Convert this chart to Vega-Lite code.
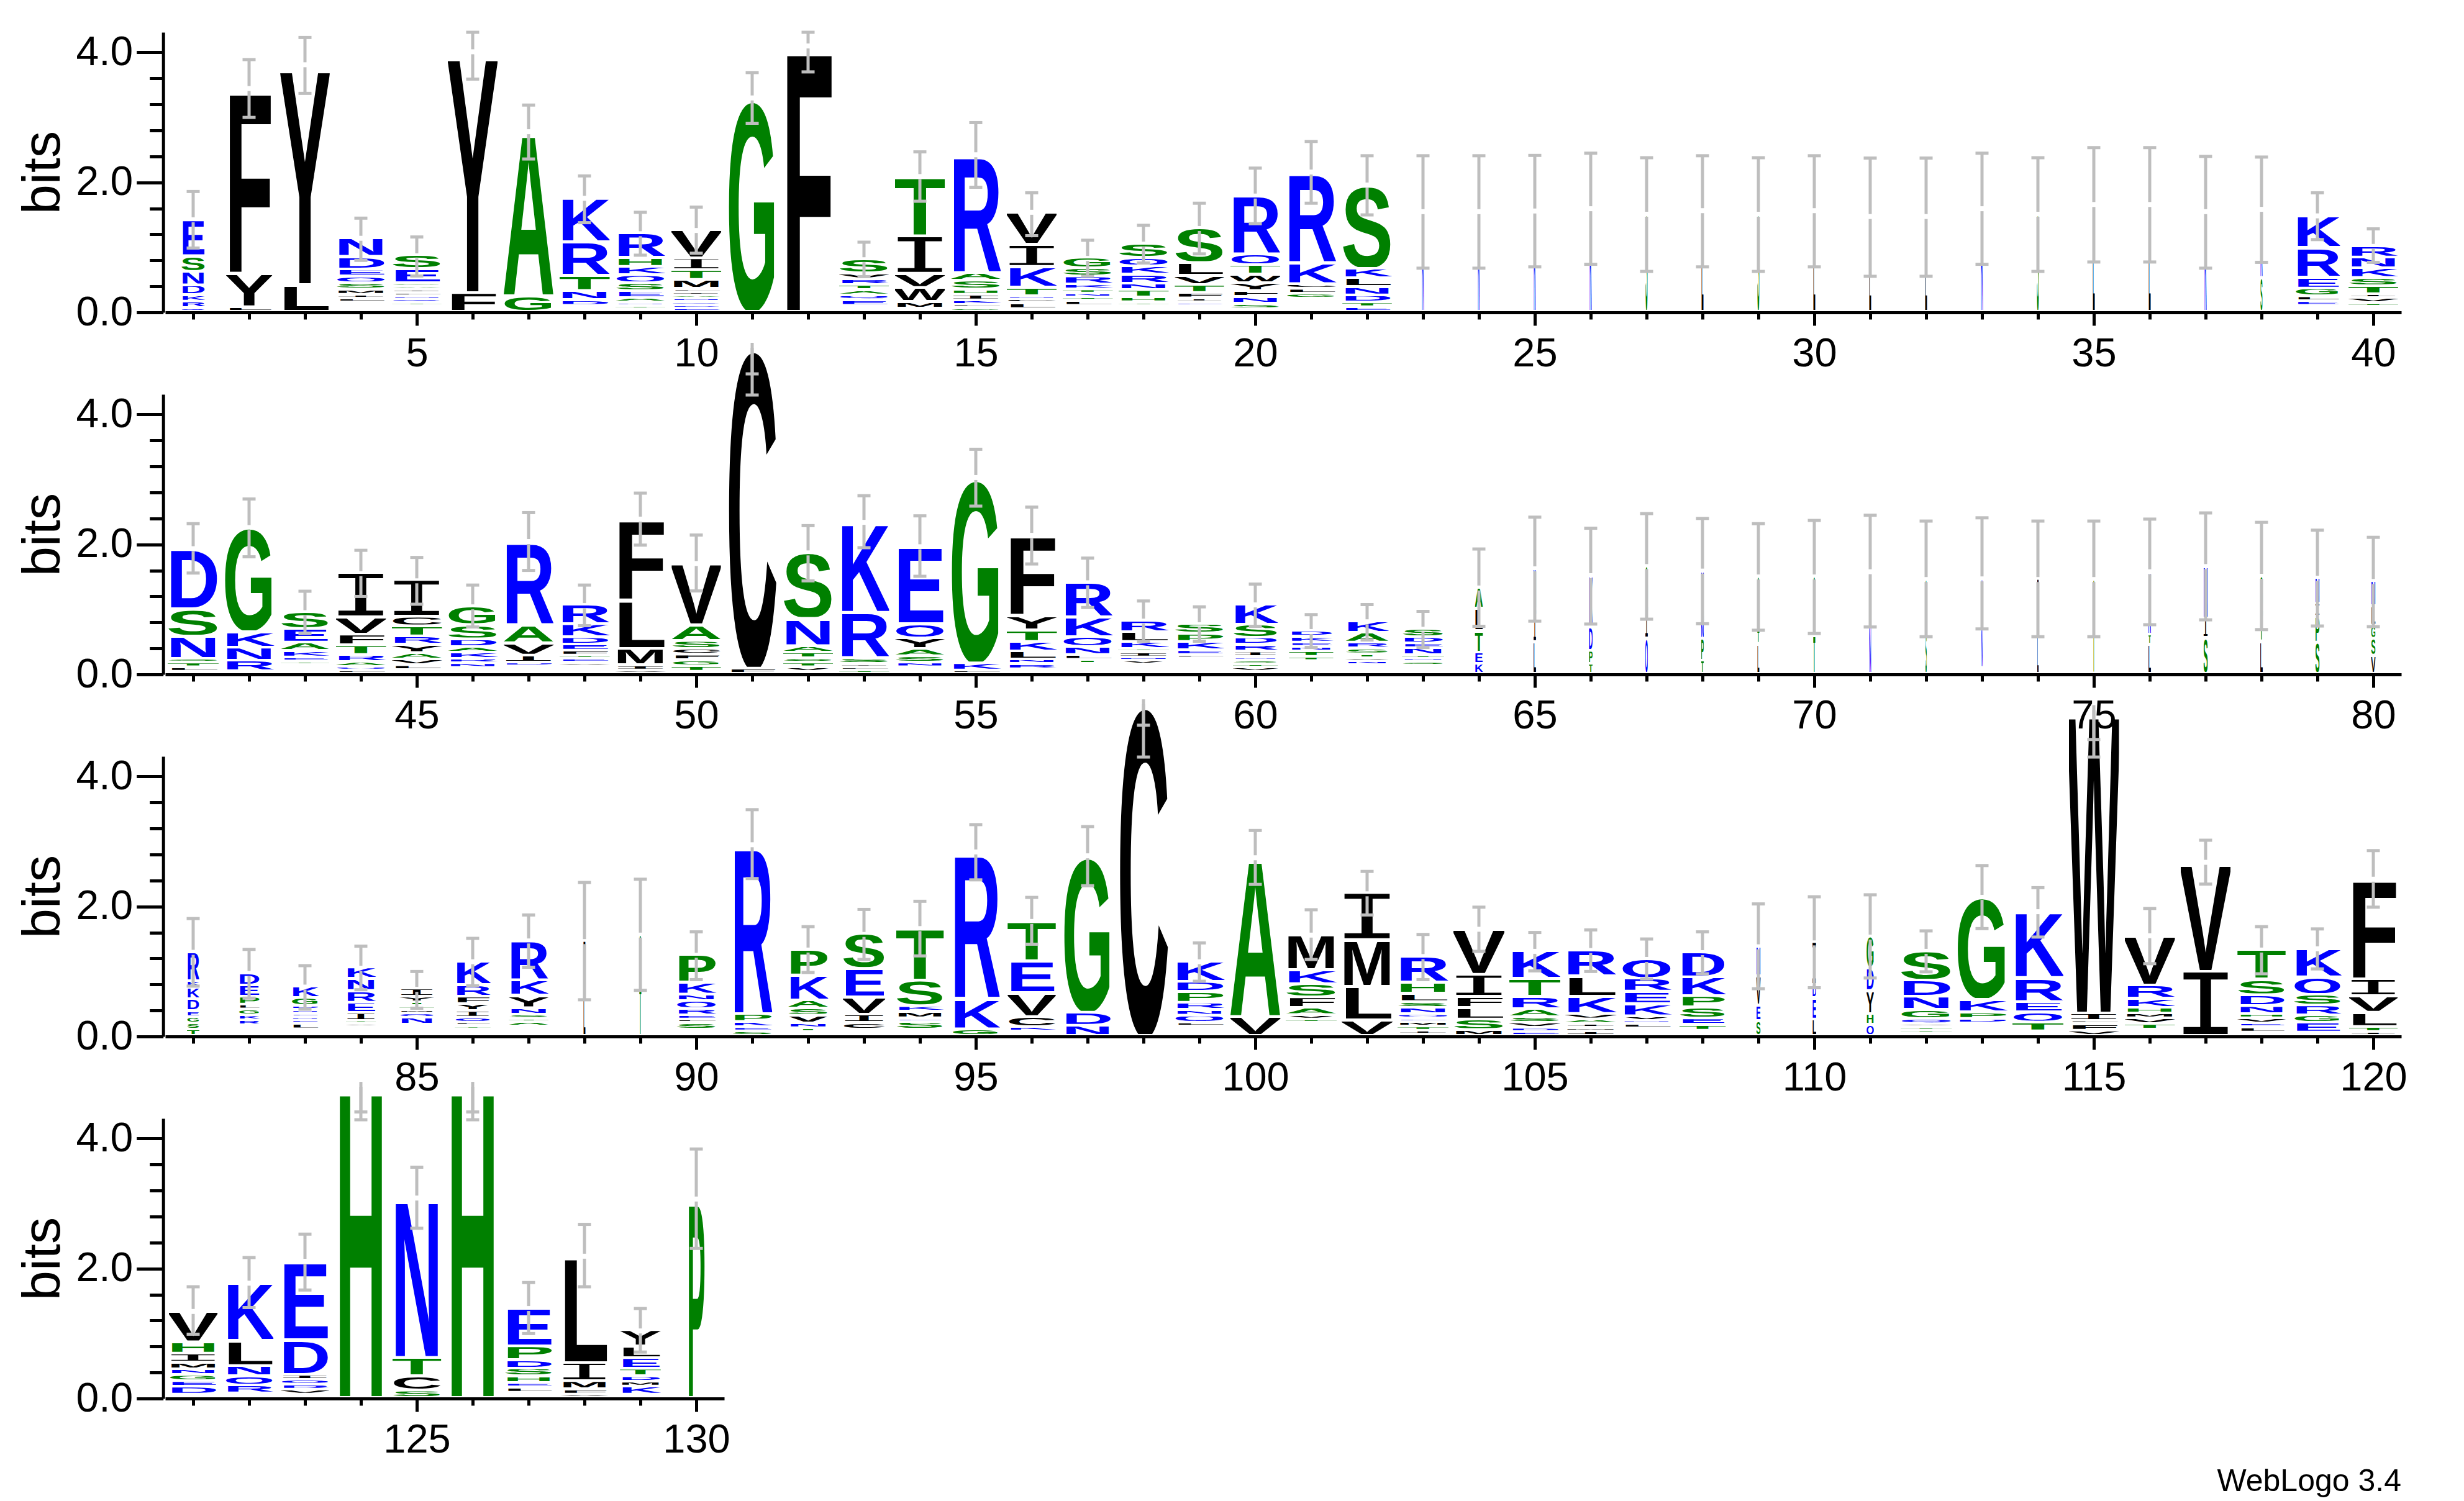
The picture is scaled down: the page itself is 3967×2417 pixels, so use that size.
{
"$schema":"https://vega.github.io/schema/vega-lite/v6.json",
"description":"WebLogo sequence logo of a 130 position protein alignment",
"padding":{"left":26,"top":49,"right":100,"bottom":5},
"background":"white",
"config":{"view":{"stroke":null},"font":"Liberation Sans"},
"bounds":"flush",
"spacing":132,
"datasets":{
"columns":[
{"pos":1,"w":0.43,"low":0.99,"high":1.86},{"pos":2,"w":0.83,"low":3.0,"high":3.89},{"pos":3,"w":0.885,"low":3.37,"high":4.23},{"pos":4,"w":0.89,"low":0.8,"high":1.45},{"pos":5,"w":0.885,"low":0.56,"high":1.16},{"pos":6,"w":0.89,"low":3.59,"high":4.31},{"pos":7,"w":0.9,"low":2.36,"high":3.19},{"pos":8,"w":0.9,"low":1.38,"high":2.1},{"pos":9,"w":0.89,"low":0.88,"high":1.54},{"pos":10,"w":0.89,"low":0.91,"high":1.62},
{"pos":11,"w":0.875,"low":2.91,"high":3.69},{"pos":12,"w":0.9,"low":3.7,"high":4.31},{"pos":13,"w":0.89,"low":0.55,"high":1.08},{"pos":14,"w":0.89,"low":1.71,"high":2.47},{"pos":15,"w":0.9,"low":1.925,"high":2.92},{"pos":16,"w":0.89,"low":1.18,"high":1.84},{"pos":17,"w":0.9,"low":0.56,"high":1.11},{"pos":18,"w":0.9,"low":0.76,"high":1.34},{"pos":19,"w":0.88,"low":0.9,"high":1.68},{"pos":20,"w":0.89,"low":1.365,"high":2.22},
{"pos":21,"w":0.9,"low":1.68,"high":2.63},{"pos":22,"w":0.885,"low":1.5,"high":2.41},{"pos":23,"w":0.04,"low":0.68,"high":2.41},{"pos":24,"w":0.04,"low":0.68,"high":2.41},{"pos":25,"w":0.04,"low":0.7,"high":2.415},{"pos":26,"w":0.04,"low":0.74,"high":2.45},{"pos":27,"w":0.04,"low":0.63,"high":2.38},{"pos":28,"w":0.04,"low":0.7,"high":2.41},{"pos":29,"w":0.04,"low":0.63,"high":2.38},{"pos":30,"w":0.04,"low":0.7,"high":2.41},
{"pos":31,"w":0.04,"low":0.555,"high":2.375},{"pos":32,"w":0.04,"low":0.555,"high":2.375},{"pos":33,"w":0.04,"low":0.74,"high":2.45},{"pos":34,"w":0.04,"low":0.63,"high":2.38},{"pos":35,"w":0.04,"low":0.775,"high":2.535},{"pos":36,"w":0.04,"low":0.775,"high":2.535},{"pos":37,"w":0.04,"low":0.68,"high":2.4},{"pos":38,"w":0.04,"low":0.77,"high":2.39},{"pos":39,"w":0.81,"low":1.12,"high":1.84},{"pos":40,"w":0.885,"low":0.77,"high":1.285},
{"pos":41,"w":0.91,"low":1.56,"high":2.32},{"pos":42,"w":0.9,"low":1.81,"high":2.7},{"pos":43,"w":0.87,"low":0.63,"high":1.28},{"pos":44,"w":0.9,"low":1.2,"high":1.91},{"pos":45,"w":0.9,"low":1.08,"high":1.8},{"pos":46,"w":0.9,"low":0.73,"high":1.375},{"pos":47,"w":0.9,"low":1.6,"high":2.49},{"pos":48,"w":0.9,"low":0.75,"high":1.375},{"pos":49,"w":0.9,"low":1.99,"high":2.79},{"pos":50,"w":0.88,"low":1.285,"high":2.145},
{"pos":51,"w":0.88,"low":4.3,"high":4.625},{"pos":52,"w":0.89,"low":1.44,"high":2.29},{"pos":53,"w":0.9,"low":1.95,"high":2.75},{"pos":54,"w":0.89,"low":1.51,"high":2.44},{"pos":55,"w":0.9,"low":2.59,"high":3.465},{"pos":56,"w":0.9,"low":1.7,"high":2.575},{"pos":57,"w":0.9,"low":1.03,"high":1.79},{"pos":58,"w":0.91,"low":0.51,"high":1.13},{"pos":59,"w":0.89,"low":0.51,"high":1.04},{"pos":60,"w":0.81,"low":0.74,"high":1.39},
{"pos":61,"w":0.79,"low":0.415,"high":0.92},{"pos":62,"w":0.775,"low":0.53,"high":1.075},{"pos":63,"w":0.75,"low":0.415,"high":0.97},{"pos":64,"w":0.145,"low":0.74,"high":1.93},{"pos":65,"w":0.05,"low":0.82,"high":2.42},{"pos":66,"w":0.07,"low":0.775,"high":2.25},{"pos":67,"w":0.05,"low":0.85,"high":2.475},{"pos":68,"w":0.05,"low":0.78,"high":2.4},{"pos":69,"w":0.04,"low":0.68,"high":2.32},{"pos":70,"w":0.04,"low":0.63,"high":2.37},
{"pos":71,"w":0.04,"low":0.73,"high":2.45},{"pos":72,"w":0.03,"low":0.58,"high":2.36},{"pos":73,"w":0.03,"low":0.7,"high":2.41},{"pos":74,"w":0.03,"low":0.58,"high":2.36},{"pos":75,"w":0.03,"low":0.58,"high":2.36},{"pos":76,"w":0.05,"low":0.765,"high":2.39},{"pos":77,"w":0.08,"low":0.84,"high":2.485},{"pos":78,"w":0.05,"low":0.69,"high":2.34},{"pos":79,"w":0.08,"low":0.745,"high":2.22},{"pos":80,"w":0.08,"low":0.735,"high":2.11},
{"pos":81,"w":0.22,"low":0.775,"high":1.815},{"pos":82,"w":0.38,"low":0.59,"high":1.34},{"pos":83,"w":0.49,"low":0.42,"high":1.09},{"pos":84,"w":0.54,"low":0.72,"high":1.39},{"pos":85,"w":0.62,"low":0.435,"high":1.0},{"pos":86,"w":0.64,"low":0.78,"high":1.51},{"pos":87,"w":0.71,"low":1.065,"high":1.87},{"pos":88,"w":0.04,"low":0.565,"high":2.37},{"pos":89,"w":0.04,"low":0.71,"high":2.42},{"pos":90,"w":0.72,"low":0.875,"high":1.61},
{"pos":91,"w":0.72,"low":2.43,"high":3.49},{"pos":92,"w":0.72,"low":0.985,"high":1.69},{"pos":93,"w":0.76,"low":1.185,"high":1.955},{"pos":94,"w":0.85,"low":1.24,"high":2.08},{"pos":95,"w":0.86,"low":2.41,"high":3.26},{"pos":96,"w":0.86,"low":1.42,"high":2.14},{"pos":97,"w":0.875,"low":2.32,"high":3.23},{"pos":98,"w":0.89,"low":4.3,"high":4.79},{"pos":99,"w":0.9,"low":0.85,"high":1.44},{"pos":100,"w":0.9,"low":2.34,"high":3.17},
{"pos":101,"w":0.91,"low":1.185,"high":1.95},{"pos":102,"w":0.91,"low":1.87,"high":2.54},{"pos":103,"w":0.91,"low":0.875,"high":1.57},{"pos":104,"w":0.91,"low":1.31,"high":1.99},{"pos":105,"w":0.91,"low":1.01,"high":1.6},{"pos":106,"w":0.92,"low":1.0,"high":1.64},{"pos":107,"w":0.9,"low":0.885,"high":1.5},{"pos":108,"w":0.83,"low":0.965,"high":1.61},{"pos":109,"w":0.08,"low":0.735,"high":2.04},{"pos":110,"w":0.07,"low":0.75,"high":2.15},
{"pos":111,"w":0.135,"low":0.9,"high":2.18},{"pos":112,"w":0.92,"low":0.995,"high":1.625},{"pos":113,"w":0.91,"low":1.66,"high":2.63},{"pos":114,"w":0.91,"low":1.53,"high":2.29},{"pos":115,"w":0.9,"low":4.3,"high":4.57},{"pos":116,"w":0.9,"low":1.12,"high":1.97},{"pos":117,"w":0.89,"low":2.345,"high":3.02},{"pos":118,"w":0.86,"low":0.965,"high":1.69},{"pos":119,"w":0.86,"low":1.04,"high":1.655},{"pos":120,"w":0.87,"low":1.99,"high":2.86},
{"pos":121,"w":0.87,"low":0.99,"high":1.72},{"pos":122,"w":0.87,"low":1.4,"high":2.17},{"pos":123,"w":0.87,"low":1.67,"high":2.53},{"pos":124,"w":0.87,"low":4.29,"high":4.41},{"pos":125,"w":0.87,"low":2.62,"high":3.56},{"pos":126,"w":0.87,"low":4.29,"high":4.41},{"pos":127,"w":0.87,"low":1.0,"high":1.785},{"pos":128,"w":0.84,"low":1.72,"high":2.68},{"pos":129,"w":0.73,"low":0.715,"high":1.385},{"pos":130,"w":0.31,"low":2.31,"high":3.84}
],
"letters":[
{"pos":1,"aa":"Q","bits":0.055},{"pos":1,"aa":"R","bits":0.1},{"pos":1,"aa":"K","bits":0.1},{"pos":1,"aa":"D","bits":0.15},{"pos":1,"aa":"N","bits":0.21},{"pos":1,"aa":"S","bits":0.24},{"pos":1,"aa":"E","bits":0.57},
{"pos":2,"aa":"L","bits":0.07},{"pos":2,"aa":"Y","bits":0.515},{"pos":2,"aa":"F","bits":2.86},
{"pos":3,"aa":"L","bits":0.41},{"pos":3,"aa":"Y","bits":3.4},
{"pos":4,"aa":"","bits":0.14},{"pos":4,"aa":"L","bits":0.06},{"pos":4,"aa":"I","bits":0.06},{"pos":4,"aa":"M","bits":0.08},{"pos":4,"aa":"S","bits":0.1},{"pos":4,"aa":"Q","bits":0.1},{"pos":4,"aa":"E","bits":0.11},{"pos":4,"aa":"D","bits":0.195},{"pos":4,"aa":"N","bits":0.295},
{"pos":5,"aa":"","bits":0.09},{"pos":5,"aa":"T","bits":0.05},{"pos":5,"aa":"Q","bits":0.05},{"pos":5,"aa":"N","bits":0.05},{"pos":5,"aa":"L","bits":0.05},{"pos":5,"aa":"I","bits":0.05},{"pos":5,"aa":"A","bits":0.05},{"pos":5,"aa":"G","bits":0.05},{"pos":5,"aa":"E","bits":0.22},{"pos":5,"aa":"S","bits":0.21},
{"pos":6,"aa":"F","bits":0.285},{"pos":6,"aa":"Y","bits":3.725},
{"pos":7,"aa":"G","bits":0.24},{"pos":7,"aa":"A","bits":2.54},
{"pos":8,"aa":"","bits":0.09},{"pos":8,"aa":"D","bits":0.09},{"pos":8,"aa":"N","bits":0.14},{"pos":8,"aa":"T","bits":0.235},{"pos":8,"aa":"R","bits":0.515},{"pos":8,"aa":"K","bits":0.685},
{"pos":9,"aa":"","bits":0.04},{"pos":9,"aa":"T","bits":0.05},{"pos":9,"aa":"N","bits":0.05},{"pos":9,"aa":"A","bits":0.07},{"pos":9,"aa":"E","bits":0.11},{"pos":9,"aa":"S","bits":0.12},{"pos":9,"aa":"Q","bits":0.12},{"pos":9,"aa":"K","bits":0.13},{"pos":9,"aa":"H","bits":0.14},{"pos":9,"aa":"R","bits":0.38},
{"pos":10,"aa":"E","bits":0.05},{"pos":10,"aa":"D","bits":0.05},{"pos":10,"aa":"Q","bits":0.05},{"pos":10,"aa":"N","bits":0.05},{"pos":10,"aa":"A","bits":0.05},{"pos":10,"aa":"I","bits":0.05},{"pos":10,"aa":"L","bits":0.05},{"pos":10,"aa":"M","bits":0.14},{"pos":10,"aa":"T","bits":0.15},{"pos":10,"aa":"I","bits":0.18},{"pos":10,"aa":"V","bits":0.44},
{"pos":11,"aa":"G","bits":3.3},
{"pos":12,"aa":"F","bits":4.1},
{"pos":13,"aa":"","bits":0.09},{"pos":13,"aa":"E","bits":0.09},{"pos":13,"aa":"Q","bits":0.07},{"pos":13,"aa":"A","bits":0.08},{"pos":13,"aa":"T","bits":0.08},{"pos":13,"aa":"R","bits":0.09},{"pos":13,"aa":"V","bits":0.09},{"pos":13,"aa":"S","bits":0.22},
{"pos":14,"aa":"","bits":0.045},{"pos":14,"aa":"M","bits":0.105},{"pos":14,"aa":"W","bits":0.215},{"pos":14,"aa":"V","bits":0.22},{"pos":14,"aa":"I","bits":0.575},{"pos":14,"aa":"T","bits":0.93},
{"pos":15,"aa":"G","bits":0.055},{"pos":15,"aa":"L","bits":0.05},{"pos":15,"aa":"K","bits":0.07},{"pos":15,"aa":"I","bits":0.085},{"pos":15,"aa":"H","bits":0.08},{"pos":15,"aa":"S","bits":0.135},{"pos":15,"aa":"A","bits":0.12},{"pos":15,"aa":"R","bits":1.83},
{"pos":16,"aa":"","bits":0.04},{"pos":16,"aa":"L","bits":0.09},{"pos":16,"aa":"C","bits":0.06},{"pos":16,"aa":"N","bits":0.05},{"pos":16,"aa":"T","bits":0.13},{"pos":16,"aa":"K","bits":0.32},{"pos":16,"aa":"I","bits":0.34},{"pos":16,"aa":"V","bits":0.51},
{"pos":17,"aa":"","bits":0.09},{"pos":17,"aa":"L","bits":0.08},{"pos":17,"aa":"T","bits":0.05},{"pos":17,"aa":"N","bits":0.06},{"pos":17,"aa":"T","bits":0.06},{"pos":17,"aa":"K","bits":0.08},{"pos":17,"aa":"R","bits":0.12},{"pos":17,"aa":"S","bits":0.13},{"pos":17,"aa":"G","bits":0.16},
{"pos":18,"aa":"","bits":0.09},{"pos":18,"aa":"T","bits":0.055},{"pos":18,"aa":"H","bits":0.075},{"pos":18,"aa":"T","bits":0.11},{"pos":18,"aa":"N","bits":0.1},{"pos":18,"aa":"R","bits":0.14},{"pos":18,"aa":"K","bits":0.13},{"pos":18,"aa":"Q","bits":0.13},{"pos":18,"aa":"S","bits":0.22},
{"pos":19,"aa":"","bits":0.09},{"pos":19,"aa":"E","bits":0.055},{"pos":19,"aa":"I","bits":0.06},{"pos":19,"aa":"F","bits":0.085},{"pos":19,"aa":"T","bits":0.12},{"pos":19,"aa":"V","bits":0.14},{"pos":19,"aa":"L","bits":0.2},{"pos":19,"aa":"S","bits":0.54},
{"pos":20,"aa":"","bits":0.04},{"pos":20,"aa":"S","bits":0.08},{"pos":20,"aa":"N","bits":0.105},{"pos":20,"aa":"F","bits":0.095},{"pos":20,"aa":"Y","bits":0.12},{"pos":20,"aa":"W","bits":0.13},{"pos":20,"aa":"T","bits":0.15},{"pos":20,"aa":"Q","bits":0.16},{"pos":20,"aa":"R","bits":0.91},
{"pos":21,"aa":"","bits":0.2},{"pos":21,"aa":"G","bits":0.075},{"pos":21,"aa":"L","bits":0.075},{"pos":21,"aa":"C","bits":0.075},{"pos":21,"aa":"K","bits":0.325},{"pos":21,"aa":"R","bits":1.41},
{"pos":22,"aa":"E","bits":0.07},{"pos":22,"aa":"T","bits":0.07},{"pos":22,"aa":"D","bits":0.11},{"pos":22,"aa":"N","bits":0.13},{"pos":22,"aa":"L","bits":0.135},{"pos":22,"aa":"K","bits":0.145},{"pos":22,"aa":"S","bits":1.3},
{"pos":23,"aa":"K","bits":1.55},{"pos":24,"aa":"K","bits":1.55},{"pos":25,"aa":"K","bits":1.56},{"pos":26,"aa":"K","bits":1.595},{"pos":27,"aa":"S","bits":1.51},{"pos":28,"aa":"L","bits":1.565},{"pos":29,"aa":"S","bits":1.51},{"pos":30,"aa":"L","bits":1.565},{"pos":31,"aa":"L","bits":1.475},{"pos":32,"aa":"L","bits":1.475},{"pos":33,"aa":"K","bits":1.595},{"pos":34,"aa":"S","bits":1.51},{"pos":35,"aa":"L","bits":1.66},{"pos":36,"aa":"L","bits":1.66},{"pos":37,"aa":"K","bits":1.55},
{"pos":38,"aa":"S","bits":0.52},{"pos":38,"aa":"K","bits":1.065},
{"pos":39,"aa":"","bits":0.09},{"pos":39,"aa":"E","bits":0.07},{"pos":39,"aa":"L","bits":0.075},{"pos":39,"aa":"G","bits":0.12},{"pos":39,"aa":"E","bits":0.17},{"pos":39,"aa":"R","bits":0.46},{"pos":39,"aa":"K","bits":0.5},
{"pos":40,"aa":"","bits":0.075},{"pos":40,"aa":"T","bits":0.055},{"pos":40,"aa":"V","bits":0.08},{"pos":40,"aa":"I","bits":0.06},{"pos":40,"aa":"T","bits":0.125},{"pos":40,"aa":"S","bits":0.125},{"pos":40,"aa":"K","bits":0.15},{"pos":40,"aa":"N","bits":0.165},{"pos":40,"aa":"R","bits":0.18},
{"pos":41,"aa":"","bits":0.03},{"pos":41,"aa":"L","bits":0.07},{"pos":41,"aa":"T","bits":0.07},{"pos":41,"aa":"S","bits":0.06},{"pos":41,"aa":"N","bits":0.34},{"pos":41,"aa":"S","bits":0.42},{"pos":41,"aa":"D","bits":0.945},
{"pos":42,"aa":"","bits":0.04},{"pos":42,"aa":"R","bits":0.16},{"pos":42,"aa":"N","bits":0.2},{"pos":42,"aa":"K","bits":0.24},{"pos":42,"aa":"G","bits":1.62},
{"pos":43,"aa":"","bits":0.135},{"pos":43,"aa":"T","bits":0.055},{"pos":43,"aa":"E","bits":0.06},{"pos":43,"aa":"K","bits":0.1},{"pos":43,"aa":"A","bits":0.13},{"pos":43,"aa":"E","bits":0.21},{"pos":43,"aa":"S","bits":0.26},
{"pos":44,"aa":"L","bits":0.05},{"pos":44,"aa":"Q","bits":0.056},{"pos":44,"aa":"A","bits":0.074},{"pos":44,"aa":"R","bits":0.11},{"pos":44,"aa":"T","bits":0.145},{"pos":44,"aa":"F","bits":0.165},{"pos":44,"aa":"V","bits":0.265},{"pos":44,"aa":"I","bits":0.685},
{"pos":45,"aa":"","bits":0.055},{"pos":45,"aa":"L","bits":0.075},{"pos":45,"aa":"V","bits":0.09},{"pos":45,"aa":"A","bits":0.1},{"pos":45,"aa":"Y","bits":0.13},{"pos":45,"aa":"R","bits":0.125},{"pos":45,"aa":"T","bits":0.155},{"pos":45,"aa":"C","bits":0.145},{"pos":45,"aa":"I","bits":0.565},
{"pos":46,"aa":"","bits":0.09},{"pos":46,"aa":"N","bits":0.07},{"pos":46,"aa":"R","bits":0.07},{"pos":46,"aa":"K","bits":0.095},{"pos":46,"aa":"A","bits":0.085},{"pos":46,"aa":"D","bits":0.12},{"pos":46,"aa":"S","bits":0.22},{"pos":46,"aa":"G","bits":0.29},
{"pos":47,"aa":"","bits":0.11},{"pos":47,"aa":"D","bits":0.06},{"pos":47,"aa":"I","bits":0.11},{"pos":47,"aa":"V","bits":0.19},{"pos":47,"aa":"A","bits":0.28},{"pos":47,"aa":"R","bits":1.295},
{"pos":48,"aa":"","bits":0.115},{"pos":48,"aa":"V","bits":0.055},{"pos":48,"aa":"E","bits":0.06},{"pos":48,"aa":"T","bits":0.05},{"pos":48,"aa":"F","bits":0.075},{"pos":48,"aa":"E","bits":0.095},{"pos":48,"aa":"D","bits":0.11},{"pos":48,"aa":"K","bits":0.2},{"pos":48,"aa":"R","bits":0.3},
{"pos":49,"aa":"V","bits":0.05},{"pos":49,"aa":"I","bits":0.08},{"pos":49,"aa":"M","bits":0.25},{"pos":49,"aa":"L","bits":0.75},{"pos":49,"aa":"F","bits":1.26},
{"pos":50,"aa":"","bits":0.03},{"pos":50,"aa":"T","bits":0.087},{"pos":50,"aa":"G","bits":0.09},{"pos":50,"aa":"F","bits":0.085},{"pos":50,"aa":"C","bits":0.09},{"pos":50,"aa":"S","bits":0.12},{"pos":50,"aa":"A","bits":0.245},{"pos":50,"aa":"V","bits":0.96},
{"pos":51,"aa":"F","bits":0.08},{"pos":51,"aa":"C","bits":4.985},
{"pos":52,"aa":"","bits":0.03},{"pos":52,"aa":"V","bits":0.07},{"pos":52,"aa":"T","bits":0.07},{"pos":52,"aa":"S","bits":0.07},{"pos":52,"aa":"T","bits":0.085},{"pos":52,"aa":"A","bits":0.1},{"pos":52,"aa":"N","bits":0.42},{"pos":52,"aa":"S","bits":1.025},
{"pos":53,"aa":"T","bits":0.05},{"pos":53,"aa":"L","bits":0.05},{"pos":53,"aa":"I","bits":0.05},{"pos":53,"aa":"S","bits":0.085},{"pos":53,"aa":"R","bits":0.705},{"pos":53,"aa":"K","bits":1.4},
{"pos":54,"aa":"","bits":0.1},{"pos":54,"aa":"N","bits":0.07},{"pos":54,"aa":"S","bits":0.1},{"pos":54,"aa":"A","bits":0.11},{"pos":54,"aa":"Y","bits":0.165},{"pos":54,"aa":"Q","bits":0.215},{"pos":54,"aa":"E","bits":1.205},
{"pos":55,"aa":"L","bits":0.05},{"pos":55,"aa":"K","bits":0.11},{"pos":55,"aa":"G","bits":2.87},
{"pos":56,"aa":"","bits":0.07},{"pos":56,"aa":"R","bits":0.08},{"pos":56,"aa":"N","bits":0.07},{"pos":56,"aa":"L","bits":0.125},{"pos":56,"aa":"K","bits":0.145},{"pos":56,"aa":"T","bits":0.18},{"pos":56,"aa":"Y","bits":0.22},{"pos":56,"aa":"F","bits":1.25},
{"pos":57,"aa":"","bits":0.15},{"pos":57,"aa":"T","bits":0.065},{"pos":57,"aa":"L","bits":0.075},{"pos":57,"aa":"N","bits":0.125},{"pos":57,"aa":"Q","bits":0.15},{"pos":57,"aa":"K","bits":0.305},{"pos":57,"aa":"R","bits":0.54},
{"pos":58,"aa":"","bits":0.14},{"pos":58,"aa":"V","bits":0.06},{"pos":58,"aa":"N","bits":0.05},{"pos":58,"aa":"I","bits":0.08},{"pos":58,"aa":"T","bits":0.05},{"pos":58,"aa":"K","bits":0.11},{"pos":58,"aa":"L","bits":0.15},{"pos":58,"aa":"R","bits":0.18},
{"pos":59,"aa":"","bits":0.235},{"pos":59,"aa":"L","bits":0.055},{"pos":59,"aa":"E","bits":0.07},{"pos":59,"aa":"K","bits":0.13},{"pos":59,"aa":"P","bits":0.13},{"pos":59,"aa":"S","bits":0.145},
{"pos":60,"aa":"","bits":0.03},{"pos":60,"aa":"V","bits":0.065},{"pos":60,"aa":"T","bits":0.05},{"pos":60,"aa":"S","bits":0.06},{"pos":60,"aa":"N","bits":0.05},{"pos":60,"aa":"I","bits":0.085},{"pos":60,"aa":"R","bits":0.105},{"pos":60,"aa":"D","bits":0.11},{"pos":60,"aa":"S","bits":0.2},{"pos":60,"aa":"K","bits":0.315},
{"pos":61,"aa":"","bits":0.195},{"pos":61,"aa":"T","bits":0.065},{"pos":61,"aa":"T","bits":0.085},{"pos":61,"aa":"N","bits":0.07},{"pos":61,"aa":"E","bits":0.065},{"pos":61,"aa":"K","bits":0.09},{"pos":61,"aa":"D","bits":0.09},
{"pos":62,"aa":"","bits":0.13},{"pos":62,"aa":"N","bits":0.06},{"pos":62,"aa":"V","bits":0.05},{"pos":62,"aa":"T","bits":0.06},{"pos":62,"aa":"S","bits":0.09},{"pos":62,"aa":"R","bits":0.09},{"pos":62,"aa":"A","bits":0.15},{"pos":62,"aa":"K","bits":0.18},
{"pos":63,"aa":"","bits":0.12},{"pos":63,"aa":"S","bits":0.06},{"pos":63,"aa":"N","bits":0.05},{"pos":63,"aa":"T","bits":0.055},{"pos":63,"aa":"N","bits":0.11},{"pos":63,"aa":"E","bits":0.07},{"pos":63,"aa":"D","bits":0.1},{"pos":63,"aa":"S","bits":0.13},
{"pos":64,"aa":"K","bits":0.15},{"pos":64,"aa":"E","bits":0.175},{"pos":64,"aa":"T","bits":0.335},{"pos":64,"aa":"L","bits":0.34},{"pos":64,"aa":"A","bits":0.33},
{"pos":65,"aa":"L","bits":0.49},{"pos":65,"aa":"I","bits":0.5},{"pos":65,"aa":"N","bits":0.635},
{"pos":66,"aa":"T","bits":0.15},{"pos":66,"aa":"P","bits":0.2},{"pos":66,"aa":"D","bits":0.37},{"pos":66,"aa":"K","bits":0.8},
{"pos":67,"aa":"Q","bits":0.54},{"pos":67,"aa":"I","bits":0.5},{"pos":67,"aa":"G","bits":0.62},
{"pos":68,"aa":"T","bits":0.2},{"pos":68,"aa":"P","bits":0.34},{"pos":68,"aa":"N","bits":0.25},{"pos":68,"aa":"K","bits":0.8},
{"pos":69,"aa":"L","bits":0.46},{"pos":69,"aa":"T","bits":0.22},{"pos":69,"aa":"S","bits":0.82},
{"pos":70,"aa":"T","bits":0.6},{"pos":70,"aa":"S","bits":0.9},
{"pos":71,"aa":"N","bits":0.75},{"pos":71,"aa":"K","bits":0.83},
{"pos":72,"aa":"S","bits":0.7},{"pos":72,"aa":"G","bits":0.76},
{"pos":73,"aa":"","bits":0.09},{"pos":73,"aa":"N","bits":0.68},{"pos":73,"aa":"K","bits":0.7},
{"pos":74,"aa":"L","bits":0.7},{"pos":74,"aa":"I","bits":0.76},
{"pos":75,"aa":"T","bits":0.7},{"pos":75,"aa":"S","bits":0.76},
{"pos":76,"aa":"L","bits":0.45},{"pos":76,"aa":"T","bits":0.15},{"pos":76,"aa":"K","bits":0.98},
{"pos":77,"aa":"S","bits":0.55},{"pos":77,"aa":"I","bits":0.3},{"pos":77,"aa":"N","bits":0.81},
{"pos":78,"aa":"L","bits":0.5},{"pos":78,"aa":"T","bits":0.5},{"pos":78,"aa":"S","bits":0.51},
{"pos":79,"aa":"S","bits":0.48},{"pos":79,"aa":"P","bits":0.4},{"pos":79,"aa":"I","bits":0.2},{"pos":79,"aa":"N","bits":0.4},
{"pos":80,"aa":"V","bits":0.28},{"pos":80,"aa":"S","bits":0.26},{"pos":80,"aa":"G","bits":0.2},{"pos":80,"aa":"L","bits":0.3},{"pos":80,"aa":"N","bits":0.39},
{"pos":81,"aa":"T","bits":0.095},{"pos":81,"aa":"S","bits":0.095},{"pos":81,"aa":"G","bits":0.1},{"pos":81,"aa":"E","bits":0.09},{"pos":81,"aa":"D","bits":0.185},{"pos":81,"aa":"K","bits":0.18},{"pos":81,"aa":"K","bits":0.095},{"pos":81,"aa":"R","bits":0.455},
{"pos":82,"aa":"","bits":0.16},{"pos":82,"aa":"R","bits":0.08},{"pos":82,"aa":"K","bits":0.075},{"pos":82,"aa":"G","bits":0.09},{"pos":82,"aa":"L","bits":0.075},{"pos":82,"aa":"P","bits":0.12},{"pos":82,"aa":"E","bits":0.175},{"pos":82,"aa":"D","bits":0.195},
{"pos":83,"aa":"","bits":0.1},{"pos":83,"aa":"L","bits":0.09},{"pos":83,"aa":"E","bits":0.05},{"pos":83,"aa":"N","bits":0.05},{"pos":83,"aa":"E","bits":0.055},{"pos":83,"aa":"N","bits":0.055},{"pos":83,"aa":"D","bits":0.06},{"pos":83,"aa":"G","bits":0.12},{"pos":83,"aa":"K","bits":0.18},
{"pos":84,"aa":"","bits":0.13},{"pos":84,"aa":"V","bits":0.05},{"pos":84,"aa":"T","bits":0.05},{"pos":84,"aa":"I","bits":0.12},{"pos":84,"aa":"E","bits":0.16},{"pos":84,"aa":"R","bits":0.18},{"pos":84,"aa":"N","bits":0.185},{"pos":84,"aa":"K","bits":0.175},
{"pos":85,"aa":"","bits":0.17},{"pos":85,"aa":"N","bits":0.11},{"pos":85,"aa":"Q","bits":0.065},{"pos":85,"aa":"M","bits":0.055},{"pos":85,"aa":"T","bits":0.055},{"pos":85,"aa":"T","bits":0.06},{"pos":85,"aa":"Y","bits":0.085},{"pos":85,"aa":"I","bits":0.125},
{"pos":86,"aa":"","bits":0.1},{"pos":86,"aa":"T","bits":0.05},{"pos":86,"aa":"L","bits":0.05},{"pos":86,"aa":"Q","bits":0.08},{"pos":86,"aa":"I","bits":0.1},{"pos":86,"aa":"Y","bits":0.11},{"pos":86,"aa":"F","bits":0.11},{"pos":86,"aa":"R","bits":0.18},{"pos":86,"aa":"K","bits":0.37},
{"pos":87,"aa":"","bits":0.14},{"pos":87,"aa":"A","bits":0.07},{"pos":87,"aa":"T","bits":0.05},{"pos":87,"aa":"S","bits":0.065},{"pos":87,"aa":"N","bits":0.1},{"pos":87,"aa":"Y","bits":0.195},{"pos":87,"aa":"K","bits":0.235},{"pos":87,"aa":"R","bits":0.615},
{"pos":88,"aa":"L","bits":0.7},{"pos":88,"aa":"I","bits":0.76},
{"pos":89,"aa":"T","bits":0.8},{"pos":89,"aa":"S","bits":0.76},
{"pos":90,"aa":"","bits":0.095},{"pos":90,"aa":"S","bits":0.105},{"pos":90,"aa":"L","bits":0.05},{"pos":90,"aa":"E","bits":0.065},{"pos":90,"aa":"R","bits":0.1},{"pos":90,"aa":"Q","bits":0.12},{"pos":90,"aa":"N","bits":0.1},{"pos":90,"aa":"K","bits":0.185},{"pos":90,"aa":"P","bits":0.43},
{"pos":91,"aa":"S","bits":0.07},{"pos":91,"aa":"E","bits":0.06},{"pos":91,"aa":"K","bits":0.085},{"pos":91,"aa":"P","bits":0.12},{"pos":91,"aa":"R","bits":2.615},
{"pos":92,"aa":"","bits":0.06},{"pos":92,"aa":"T","bits":0.057},{"pos":92,"aa":"N","bits":0.073},{"pos":92,"aa":"V","bits":0.12},{"pos":92,"aa":"S","bits":0.11},{"pos":92,"aa":"A","bits":0.125},{"pos":92,"aa":"K","bits":0.385},{"pos":92,"aa":"P","bits":0.4},
{"pos":93,"aa":"","bits":0.095},{"pos":93,"aa":"C","bits":0.105},{"pos":93,"aa":"I","bits":0.125},{"pos":93,"aa":"V","bits":0.265},{"pos":93,"aa":"E","bits":0.44},{"pos":93,"aa":"S","bits":0.54},
{"pos":94,"aa":"","bits":0.095},{"pos":94,"aa":"S","bits":0.12},{"pos":94,"aa":"E","bits":0.055},{"pos":94,"aa":"M","bits":0.1},{"pos":94,"aa":"K","bits":0.085},{"pos":94,"aa":"S","bits":0.395},{"pos":94,"aa":"T","bits":0.81},
{"pos":95,"aa":"G","bits":0.1},{"pos":95,"aa":"K","bits":0.47},{"pos":95,"aa":"R","bits":2.27},
{"pos":96,"aa":"","bits":0.065},{"pos":96,"aa":"K","bits":0.07},{"pos":96,"aa":"C","bits":0.155},{"pos":96,"aa":"V","bits":0.365},{"pos":96,"aa":"E","bits":0.495},{"pos":96,"aa":"T","bits":0.62},
{"pos":97,"aa":"N","bits":0.155},{"pos":97,"aa":"D","bits":0.2},{"pos":97,"aa":"G","bits":2.425},
{"pos":98,"aa":"C","bits":5.15},
{"pos":99,"aa":"","bits":0.14},{"pos":99,"aa":"L","bits":0.06},{"pos":99,"aa":"Q","bits":0.11},{"pos":99,"aa":"N","bits":0.09},{"pos":99,"aa":"R","bits":0.11},{"pos":99,"aa":"P","bits":0.165},{"pos":99,"aa":"D","bits":0.155},{"pos":99,"aa":"K","bits":0.32},
{"pos":100,"aa":"V","bits":0.29},{"pos":100,"aa":"A","bits":2.46},
{"pos":101,"aa":"","bits":0.2},{"pos":101,"aa":"T","bits":0.05},{"pos":101,"aa":"V","bits":0.07},{"pos":101,"aa":"A","bits":0.11},{"pos":101,"aa":"F","bits":0.16},{"pos":101,"aa":"S","bits":0.205},{"pos":101,"aa":"K","bits":0.215},{"pos":101,"aa":"M","bits":0.55},
{"pos":102,"aa":"V","bits":0.235},{"pos":102,"aa":"L","bits":0.52},{"pos":102,"aa":"M","bits":0.72},{"pos":102,"aa":"I","bits":0.72},
{"pos":103,"aa":"","bits":0.02},{"pos":103,"aa":"I","bits":0.06},{"pos":103,"aa":"T","bits":0.06},{"pos":103,"aa":"M","bits":0.075},{"pos":103,"aa":"E","bits":0.055},{"pos":103,"aa":"Q","bits":0.06},{"pos":103,"aa":"N","bits":0.1},{"pos":103,"aa":"S","bits":0.09},{"pos":103,"aa":"L","bits":0.13},{"pos":103,"aa":"H","bits":0.17},{"pos":103,"aa":"R","bits":0.41},
{"pos":104,"aa":"M","bits":0.09},{"pos":104,"aa":"S","bits":0.16},{"pos":104,"aa":"L","bits":0.18},{"pos":104,"aa":"F","bits":0.17},{"pos":104,"aa":"I","bits":0.34},{"pos":104,"aa":"V","bits":0.71},
{"pos":105,"aa":"E","bits":0.06},{"pos":105,"aa":"D","bits":0.06},{"pos":105,"aa":"V","bits":0.08},{"pos":105,"aa":"S","bits":0.09},{"pos":105,"aa":"A","bits":0.12},{"pos":105,"aa":"R","bits":0.19},{"pos":105,"aa":"T","bits":0.275},{"pos":105,"aa":"K","bits":0.435},
{"pos":106,"aa":"I","bits":0.07},{"pos":106,"aa":"M","bits":0.05},{"pos":106,"aa":"I","bits":0.063},{"pos":106,"aa":"A","bits":0.07},{"pos":106,"aa":"V","bits":0.085},{"pos":106,"aa":"K","bits":0.265},{"pos":106,"aa":"L","bits":0.31},{"pos":106,"aa":"R","bits":0.41},
{"pos":107,"aa":"","bits":0.115},{"pos":107,"aa":"L","bits":0.065},{"pos":107,"aa":"N","bits":0.05},{"pos":107,"aa":"V","bits":0.07},{"pos":107,"aa":"K","bits":0.19},{"pos":107,"aa":"E","bits":0.19},{"pos":107,"aa":"R","bits":0.2},{"pos":107,"aa":"Q","bits":0.305},
{"pos":108,"aa":"","bits":0.08},{"pos":108,"aa":"T","bits":0.09},{"pos":108,"aa":"E","bits":0.095},{"pos":108,"aa":"S","bits":0.17},{"pos":108,"aa":"P","bits":0.175},{"pos":108,"aa":"K","bits":0.29},{"pos":108,"aa":"D","bits":0.39},
{"pos":109,"aa":"S","bits":0.227},{"pos":109,"aa":"E","bits":0.238},{"pos":109,"aa":"V","bits":0.45},{"pos":109,"aa":"N","bits":0.465},
{"pos":110,"aa":"L","bits":0.25},{"pos":110,"aa":"E","bits":0.33},{"pos":110,"aa":"D","bits":0.2},{"pos":110,"aa":"I","bits":0.66},
{"pos":111,"aa":"Q","bits":0.17},{"pos":111,"aa":"H","bits":0.165},{"pos":111,"aa":"Y","bits":0.355},{"pos":111,"aa":"D","bits":0.35},{"pos":111,"aa":"G","bits":0.49},
{"pos":112,"aa":"","bits":0.03},{"pos":112,"aa":"T","bits":0.05},{"pos":112,"aa":"T","bits":0.05},{"pos":112,"aa":"V","bits":0.05},{"pos":112,"aa":"Q","bits":0.08},{"pos":112,"aa":"G","bits":0.14},{"pos":112,"aa":"N","bits":0.2},{"pos":112,"aa":"D","bits":0.25},{"pos":112,"aa":"S","bits":0.46},
{"pos":113,"aa":"","bits":0.19},{"pos":113,"aa":"D","bits":0.07},{"pos":113,"aa":"P","bits":0.1},{"pos":113,"aa":"K","bits":0.195},{"pos":113,"aa":"G","bits":1.585},
{"pos":114,"aa":"","bits":0.07},{"pos":114,"aa":"T","bits":0.135},{"pos":114,"aa":"Q","bits":0.155},{"pos":114,"aa":"E","bits":0.16},{"pos":114,"aa":"R","bits":0.37},{"pos":114,"aa":"K","bits":1.03},
{"pos":115,"aa":"V","bits":0.08},{"pos":115,"aa":"F","bits":0.1},{"pos":115,"aa":"L","bits":0.05},{"pos":115,"aa":"I","bits":0.115},{"pos":115,"aa":"W","bits":4.715},
{"pos":116,"aa":"","bits":0.095},{"pos":116,"aa":"T","bits":0.085},{"pos":116,"aa":"V","bits":0.09},{"pos":116,"aa":"M","bits":0.075},{"pos":116,"aa":"H","bits":0.085},{"pos":116,"aa":"K","bits":0.14},{"pos":116,"aa":"R","bits":0.205},{"pos":116,"aa":"V","bits":0.775},
{"pos":117,"aa":"I","bits":0.985},{"pos":117,"aa":"V","bits":1.695},
{"pos":118,"aa":"","bits":0.05},{"pos":118,"aa":"L","bits":0.08},{"pos":118,"aa":"E","bits":0.06},{"pos":118,"aa":"V","bits":0.08},{"pos":118,"aa":"H","bits":0.065},{"pos":118,"aa":"N","bits":0.12},{"pos":118,"aa":"D","bits":0.17},{"pos":118,"aa":"S","bits":0.24},{"pos":118,"aa":"T","bits":0.465},
{"pos":119,"aa":"","bits":0.05},{"pos":119,"aa":"E","bits":0.15},{"pos":119,"aa":"G","bits":0.115},{"pos":119,"aa":"R","bits":0.15},{"pos":119,"aa":"S","bits":0.165},{"pos":119,"aa":"Q","bits":0.27},{"pos":119,"aa":"K","bits":0.45},
{"pos":120,"aa":"I","bits":0.06},{"pos":120,"aa":"T","bits":0.075},{"pos":120,"aa":"L","bits":0.22},{"pos":120,"aa":"V","bits":0.255},{"pos":120,"aa":"I","bits":0.26},{"pos":120,"aa":"F","bits":1.55},
{"pos":121,"aa":"","bits":0.05},{"pos":121,"aa":"D","bits":0.12},{"pos":121,"aa":"E","bits":0.085},{"pos":121,"aa":"G","bits":0.095},{"pos":121,"aa":"N","bits":0.09},{"pos":121,"aa":"M","bits":0.105},{"pos":121,"aa":"I","bits":0.135},{"pos":121,"aa":"H","bits":0.175},{"pos":121,"aa":"V","bits":0.485},
{"pos":122,"aa":"","bits":0.07},{"pos":122,"aa":"R","bits":0.12},{"pos":122,"aa":"Q","bits":0.14},{"pos":122,"aa":"N","bits":0.16},{"pos":122,"aa":"L","bits":0.385},{"pos":122,"aa":"K","bits":0.9},
{"pos":123,"aa":"","bits":0.05},{"pos":123,"aa":"V","bits":0.077},{"pos":123,"aa":"R","bits":0.075},{"pos":123,"aa":"Q","bits":0.075},{"pos":123,"aa":"I","bits":0.075},{"pos":123,"aa":"D","bits":0.535},{"pos":123,"aa":"E","bits":1.225},
{"pos":124,"aa":"H","bits":4.835},
{"pos":125,"aa":"S","bits":0.11},{"pos":125,"aa":"C","bits":0.22},{"pos":125,"aa":"T","bits":0.285},{"pos":125,"aa":"N","bits":2.47},
{"pos":126,"aa":"H","bits":4.835},
{"pos":127,"aa":"","bits":0.08},{"pos":127,"aa":"L","bits":0.08},{"pos":127,"aa":"E","bits":0.065},{"pos":127,"aa":"H","bits":0.105},{"pos":127,"aa":"S","bits":0.12},{"pos":127,"aa":"D","bits":0.13},{"pos":127,"aa":"P","bits":0.21},{"pos":127,"aa":"E","bits":0.595},
{"pos":128,"aa":"V","bits":0.05},{"pos":128,"aa":"F","bits":0.08},{"pos":128,"aa":"M","bits":0.125},{"pos":128,"aa":"I","bits":0.28},{"pos":128,"aa":"L","bits":1.655},
{"pos":129,"aa":"","bits":0.05},{"pos":129,"aa":"K","bits":0.125},{"pos":129,"aa":"M","bits":0.07},{"pos":129,"aa":"D","bits":0.085},{"pos":129,"aa":"T","bits":0.115},{"pos":129,"aa":"E","bits":0.165},{"pos":129,"aa":"L","bits":0.18},{"pos":129,"aa":"Y","bits":0.25},
{"pos":130,"aa":"P","bits":3.07}
]
},
"data":{"name":"letters"},
"transform":[
{"lookup":"pos","from":{"data":{"name":"columns"},"key":"pos","fields":["w","low","high"]}},
{"calculate":"datum.pos - datum.w / 2","as":"x0"},
{"calculate":"datum.pos + datum.w / 2","as":"x1"},
{"stack":"bits","groupby":["pos"],"as":["y0","y1"]},
{"joinaggregate":[{"op":"sum","field":"bits","as":"total"}],"groupby":["pos"]},
{"calculate":"indexof('CFILMVWY', datum.aa) >= 0 ? 'black' : indexof('DEKNQR', datum.aa) >= 0 ? 'blue' : 'green'","as":"col"},
{"calculate":"datum.aa == 'I' ? \"font-family='DejaVu Sans Mono' x='-16' textLength='132' font-size='137'\" : \"font-family='Liberation Sans' font-weight='bold' x='-3' textLength='106' font-size='139.7'\"","as":"face"},
{"calculate":"\"data:image/svg+xml,%3Csvg xmlns='http://www.w3.org/2000/svg' viewBox='0 0 100 100' preserveAspectRatio='none'%3E%3Ctext y='100' lengthAdjust='spacingAndGlyphs' fill='\" + datum.col + \"' \" + datum.face + \"%3E\" + datum.aa + \"%3C/text%3E%3C/svg%3E\"","as":"glyph"}
],
"vconcat":[
{"width":3600,"height":451,"transform":[{"filter":"datum.pos <= 40"}],
"encoding":{"x":{"field":"pos","type":"quantitative","scale":{"domain":[0.5,40.5],"nice":false,"zero":false},"axis":{"title":null,"values":[1,2,3,4,5,6,7,8,9,10,11,12,13,14,15,16,17,18,19,20,21,22,23,24,25,26,27,28,29,30,31,32,33,34,35,36,37,38,39,40],"grid":false,"domainWidth":5,"domainColor":"black","tickWidth":5,"tickColor":"black","tickSize":{"condition":{"test":"datum.value % 5 === 0","value":21},"value":11},"labelExpr":"datum.value % 5 === 0 ? datum.label : ''","labelFont":"Liberation Sans","labelFontSize":65,"labelColor":"black","labelPadding":14,"labelOverlap":false,"labelFlush":false,"format":"d"}}},
"layer":[
{"transform":[{"filter":"datum.aa != ''"}],"mark":{"type":"image","aspect":false,"y2Offset":-4},"encoding":{"x":{"field":"x0","type":"quantitative","scale":{"domain":[0.5,40.5],"nice":false,"zero":false}},"x2":{"field":"x1"},"y":{"field":"y1","type":"quantitative","scale":{"domain":[0,4.31],"nice":false},"axis":{"title":"bits","titleFont":"Liberation Sans","titleFontSize":86,"titleFontWeight":"normal","titleColor":"black","titlePadding":8,"offset":3.3,"grid":false,"values":[0,0.2,0.4,0.6,0.8,1,1.2,1.4,1.6,1.8,2,2.2,2.4,2.6,2.8,3,3.2,3.4,3.6,3.8,4,4.2],"domainWidth":5,"domainColor":"black","tickWidth":5,"tickColor":"black","tickSize":{"condition":{"test":"datum.value % 1 === 0","value":43},"value":22},"labelExpr":"datum.value % 1 === 0 ? format(datum.value, '.1f') : ''","labelFont":"Liberation Sans","labelFontSize":66,"labelColor":"black","labelPadding":6,"labelOverlap":false,"labelFlush":false}},"y2":{"field":"y0"},"url":{"field":"glyph"}}},
{"transform":[{"filter":"datum.y1 > datum.total - 0.000001"}],"layer":[
{"mark":{"type":"rule","color":"#BEBEBE","strokeWidth":5,"y2Offset":-4},"encoding":{"y":{"field":"high","type":"quantitative"},"y2":{"field":"total"}}},
{"mark":{"type":"rule","color":"#BEBEBE","strokeWidth":5,"y2Offset":4},"encoding":{"y":{"field":"low","type":"quantitative"},"y2":{"field":"total"}}},
{"mark":{"type":"tick","orient":"horizontal","color":"#BEBEBE","size":21,"thickness":5,"opacity":1},"encoding":{"y":{"field":"high","type":"quantitative"}}},
{"mark":{"type":"tick","orient":"horizontal","color":"#BEBEBE","size":21,"thickness":5,"opacity":1},"encoding":{"y":{"field":"low","type":"quantitative"}}}
]}
]},
{"width":3600,"height":451,"transform":[{"filter":"datum.pos > 40 && datum.pos <= 80"}],
"encoding":{"x":{"field":"pos","type":"quantitative","scale":{"domain":[40.5,80.5],"nice":false,"zero":false},"axis":{"title":null,"values":[41,42,43,44,45,46,47,48,49,50,51,52,53,54,55,56,57,58,59,60,61,62,63,64,65,66,67,68,69,70,71,72,73,74,75,76,77,78,79,80],"grid":false,"domainWidth":5,"domainColor":"black","tickWidth":5,"tickColor":"black","tickSize":{"condition":{"test":"datum.value % 5 === 0","value":21},"value":11},"labelExpr":"datum.value % 5 === 0 ? datum.label : ''","labelFont":"Liberation Sans","labelFontSize":65,"labelColor":"black","labelPadding":14,"labelOverlap":false,"labelFlush":false,"format":"d"}}},
"layer":[
{"transform":[{"filter":"datum.aa != ''"}],"mark":{"type":"image","aspect":false,"y2Offset":-4},"encoding":{"x":{"field":"x0","type":"quantitative","scale":{"domain":[40.5,80.5],"nice":false,"zero":false}},"x2":{"field":"x1"},"y":{"field":"y1","type":"quantitative","scale":{"domain":[0,4.31],"nice":false},"axis":{"title":"bits","titleFont":"Liberation Sans","titleFontSize":86,"titleFontWeight":"normal","titleColor":"black","titlePadding":8,"offset":3.3,"grid":false,"values":[0,0.2,0.4,0.6,0.8,1,1.2,1.4,1.6,1.8,2,2.2,2.4,2.6,2.8,3,3.2,3.4,3.6,3.8,4,4.2],"domainWidth":5,"domainColor":"black","tickWidth":5,"tickColor":"black","tickSize":{"condition":{"test":"datum.value % 1 === 0","value":43},"value":22},"labelExpr":"datum.value % 1 === 0 ? format(datum.value, '.1f') : ''","labelFont":"Liberation Sans","labelFontSize":66,"labelColor":"black","labelPadding":6,"labelOverlap":false,"labelFlush":false}},"y2":{"field":"y0"},"url":{"field":"glyph"}}},
{"transform":[{"filter":"datum.y1 > datum.total - 0.000001"}],"layer":[
{"mark":{"type":"rule","color":"#BEBEBE","strokeWidth":5,"y2Offset":-4},"encoding":{"y":{"field":"high","type":"quantitative"},"y2":{"field":"total"}}},
{"mark":{"type":"rule","color":"#BEBEBE","strokeWidth":5,"y2Offset":4},"encoding":{"y":{"field":"low","type":"quantitative"},"y2":{"field":"total"}}},
{"mark":{"type":"tick","orient":"horizontal","color":"#BEBEBE","size":21,"thickness":5,"opacity":1},"encoding":{"y":{"field":"high","type":"quantitative"}}},
{"mark":{"type":"tick","orient":"horizontal","color":"#BEBEBE","size":21,"thickness":5,"opacity":1},"encoding":{"y":{"field":"low","type":"quantitative"}}}
]}
]},
{"width":3600,"height":451,"transform":[{"filter":"datum.pos > 80 && datum.pos <= 120"}],
"encoding":{"x":{"field":"pos","type":"quantitative","scale":{"domain":[80.5,120.5],"nice":false,"zero":false},"axis":{"title":null,"values":[81,82,83,84,85,86,87,88,89,90,91,92,93,94,95,96,97,98,99,100,101,102,103,104,105,106,107,108,109,110,111,112,113,114,115,116,117,118,119,120],"grid":false,"domainWidth":5,"domainColor":"black","tickWidth":5,"tickColor":"black","tickSize":{"condition":{"test":"datum.value % 5 === 0","value":21},"value":11},"labelExpr":"datum.value % 5 === 0 ? datum.label : ''","labelFont":"Liberation Sans","labelFontSize":65,"labelColor":"black","labelPadding":14,"labelOverlap":false,"labelFlush":false,"format":"d"}}},
"layer":[
{"transform":[{"filter":"datum.aa != ''"}],"mark":{"type":"image","aspect":false,"y2Offset":-4},"encoding":{"x":{"field":"x0","type":"quantitative","scale":{"domain":[80.5,120.5],"nice":false,"zero":false}},"x2":{"field":"x1"},"y":{"field":"y1","type":"quantitative","scale":{"domain":[0,4.31],"nice":false},"axis":{"title":"bits","titleFont":"Liberation Sans","titleFontSize":86,"titleFontWeight":"normal","titleColor":"black","titlePadding":8,"offset":3.3,"grid":false,"values":[0,0.2,0.4,0.6,0.8,1,1.2,1.4,1.6,1.8,2,2.2,2.4,2.6,2.8,3,3.2,3.4,3.6,3.8,4,4.2],"domainWidth":5,"domainColor":"black","tickWidth":5,"tickColor":"black","tickSize":{"condition":{"test":"datum.value % 1 === 0","value":43},"value":22},"labelExpr":"datum.value % 1 === 0 ? format(datum.value, '.1f') : ''","labelFont":"Liberation Sans","labelFontSize":66,"labelColor":"black","labelPadding":6,"labelOverlap":false,"labelFlush":false}},"y2":{"field":"y0"},"url":{"field":"glyph"}}},
{"transform":[{"filter":"datum.y1 > datum.total - 0.000001"}],"layer":[
{"mark":{"type":"rule","color":"#BEBEBE","strokeWidth":5,"y2Offset":-4},"encoding":{"y":{"field":"high","type":"quantitative"},"y2":{"field":"total"}}},
{"mark":{"type":"rule","color":"#BEBEBE","strokeWidth":5,"y2Offset":4},"encoding":{"y":{"field":"low","type":"quantitative"},"y2":{"field":"total"}}},
{"mark":{"type":"tick","orient":"horizontal","color":"#BEBEBE","size":21,"thickness":5,"opacity":1},"encoding":{"y":{"field":"high","type":"quantitative"}}},
{"mark":{"type":"tick","orient":"horizontal","color":"#BEBEBE","size":21,"thickness":5,"opacity":1},"encoding":{"y":{"field":"low","type":"quantitative"}}}
]}
]},
{"width":900,"height":451,"transform":[{"filter":"datum.pos > 120"}],
"title":{"text":"WebLogo 3.4","orient":"bottom","anchor":"end","frame":"group","dx":2700,"font":"Liberation Sans","fontSize":50,"fontWeight":"normal","color":"black","offset":10},
"encoding":{"x":{"field":"pos","type":"quantitative","scale":{"domain":[120.5,130.5],"nice":false,"zero":false},"axis":{"title":null,"values":[121,122,123,124,125,126,127,128,129,130],"grid":false,"domainWidth":5,"domainColor":"black","tickWidth":5,"tickColor":"black","tickSize":{"condition":{"test":"datum.value % 5 === 0","value":21},"value":11},"labelExpr":"datum.value % 5 === 0 ? datum.label : ''","labelFont":"Liberation Sans","labelFontSize":65,"labelColor":"black","labelPadding":14,"labelOverlap":false,"labelFlush":false,"format":"d"}}},
"layer":[
{"transform":[{"filter":"datum.aa != ''"}],"mark":{"type":"image","aspect":false,"y2Offset":-4},"encoding":{"x":{"field":"x0","type":"quantitative","scale":{"domain":[120.5,130.5],"nice":false,"zero":false}},"x2":{"field":"x1"},"y":{"field":"y1","type":"quantitative","scale":{"domain":[0,4.31],"nice":false},"axis":{"title":"bits","titleFont":"Liberation Sans","titleFontSize":86,"titleFontWeight":"normal","titleColor":"black","titlePadding":8,"offset":3.3,"grid":false,"values":[0,0.2,0.4,0.6,0.8,1,1.2,1.4,1.6,1.8,2,2.2,2.4,2.6,2.8,3,3.2,3.4,3.6,3.8,4,4.2],"domainWidth":5,"domainColor":"black","tickWidth":5,"tickColor":"black","tickSize":{"condition":{"test":"datum.value % 1 === 0","value":43},"value":22},"labelExpr":"datum.value % 1 === 0 ? format(datum.value, '.1f') : ''","labelFont":"Liberation Sans","labelFontSize":66,"labelColor":"black","labelPadding":6,"labelOverlap":false,"labelFlush":false}},"y2":{"field":"y0"},"url":{"field":"glyph"}}},
{"transform":[{"filter":"datum.y1 > datum.total - 0.000001"}],"layer":[
{"mark":{"type":"rule","color":"#BEBEBE","strokeWidth":5,"y2Offset":-4},"encoding":{"y":{"field":"high","type":"quantitative"},"y2":{"field":"total"}}},
{"mark":{"type":"rule","color":"#BEBEBE","strokeWidth":5,"y2Offset":4},"encoding":{"y":{"field":"low","type":"quantitative"},"y2":{"field":"total"}}},
{"mark":{"type":"tick","orient":"horizontal","color":"#BEBEBE","size":21,"thickness":5,"opacity":1},"encoding":{"y":{"field":"high","type":"quantitative"}}},
{"mark":{"type":"tick","orient":"horizontal","color":"#BEBEBE","size":21,"thickness":5,"opacity":1},"encoding":{"y":{"field":"low","type":"quantitative"}}}
]}
]}
]
}
